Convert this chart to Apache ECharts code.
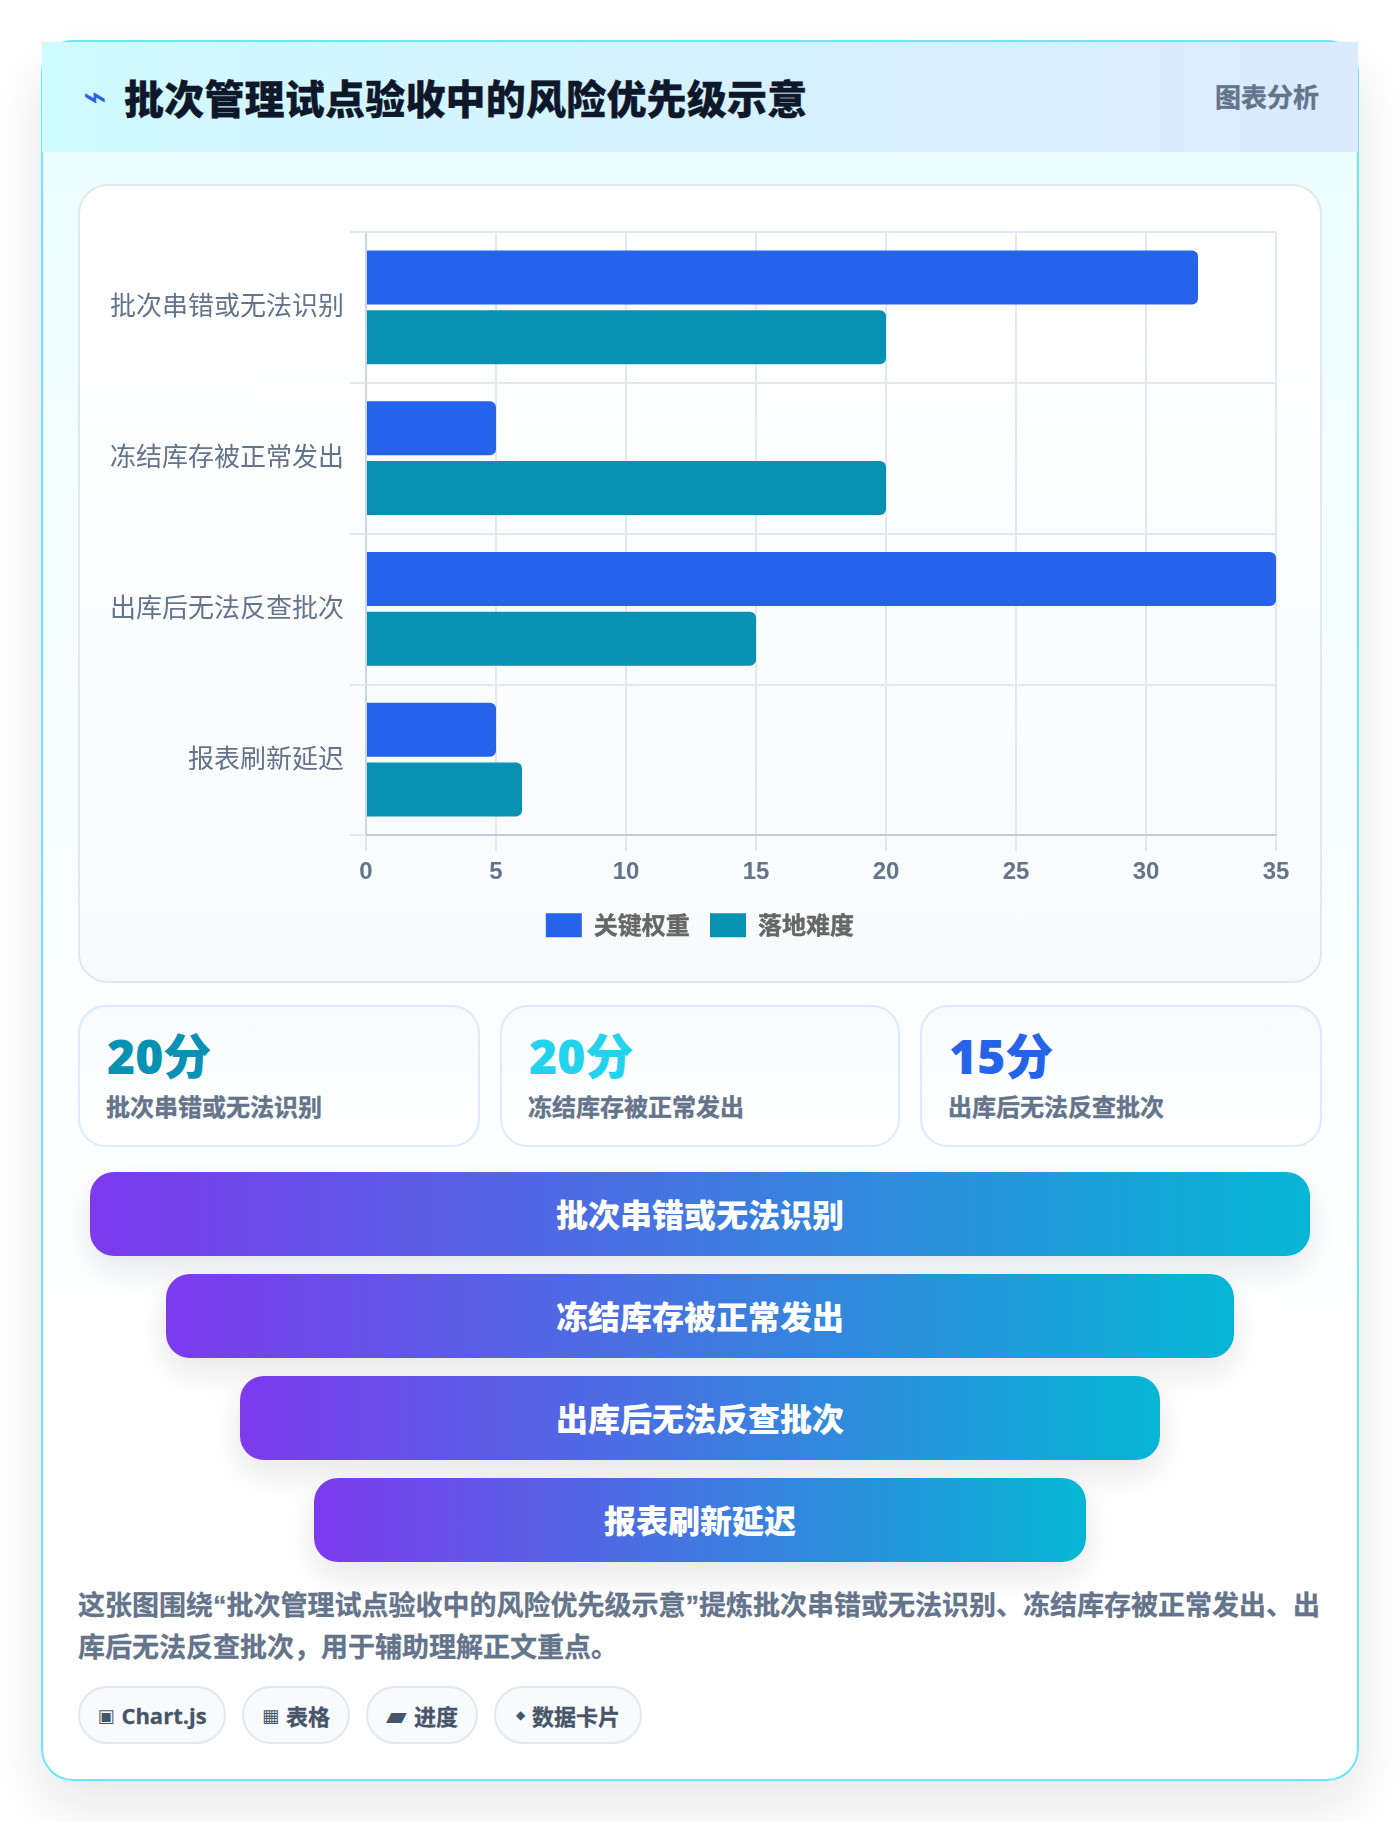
<!DOCTYPE html>
<html lang="zh"><head><meta charset="utf-8">
<script src="https://cdn.jsdelivr.net/npm/echarts@6/dist/echarts.min.js"></script>
<style>
*{box-sizing:border-box;margin:0;padding:0}
html,body{width:1400px;height:1822px;background:#fff;overflow:hidden;font-family:"Noto Sans CJK SC","Noto Sans",sans-serif}
.abs{position:absolute}
#card{left:41px;top:40px;width:1318px;height:1741px;border:2px solid #67e8f9;border-radius:32px;background:linear-gradient(180deg,#ecfeff 0%,#f8feff 45%,#fff 75%);box-shadow:0 24px 56px rgba(15,23,42,.10)}
#head{left:42px;top:42px;width:1316px;height:110px;background:linear-gradient(90deg,#cffafe,#dbeafe)}
#bolt{left:83px;top:74px;font:400 40px "DejaVu Sans";color:#2563eb;line-height:44px}
#title{left:124px;top:67px;font-size:40px;letter-spacing:.2px;font-weight:900;color:#0f172a;line-height:60px;white-space:nowrap;-webkit-text-stroke:.3px #0f172a}
#tag{right:81px;top:77px;font-size:26px;font-weight:700;color:#64748b;line-height:38px;white-space:nowrap;-webkit-text-stroke:.4px #64748b}
#box{left:78px;top:184px;width:1244px;height:799px;border:2px solid #e2e8f0;border-radius:30px;background:linear-gradient(180deg,#fff,#f8fafc)}
#chart{left:81px;top:186px;width:1238px;height:795px}
.stat{top:1005px;height:142px;border:2px solid #dbeafe;border-radius:28px;background:linear-gradient(180deg,#f8fafc,#fff)}
.stat b{position:absolute;left:27px;top:14px;font-family:"Open Sans","Noto Sans CJK SC",sans-serif;font-size:48px;font-weight:800;line-height:70px;white-space:nowrap}
.stat span{position:absolute;left:26px;top:80px;font-size:24px;font-weight:700;color:#64748b;line-height:38px;white-space:nowrap;-webkit-text-stroke:.4px #64748b}
.fun{height:84px;padding-bottom:2px;border-radius:24px;background:linear-gradient(90deg,#7c3aed,#06b6d4);box-shadow:0 14px 32px rgba(15,23,42,.10);color:#fff;font-size:32px;font-weight:800;display:flex;align-items:center;justify-content:center;white-space:nowrap}
#desc{left:78px;top:1585px;width:1246px;font-family:"Liberation Sans","Noto Sans CJK SC",sans-serif;font-size:27px;font-weight:700;color:#64748b;line-height:42px;-webkit-text-stroke:.3px #64748b}
.pill{top:1686px;height:58px;padding-bottom:0;border:2px solid #e2e8f0;border-radius:29px;background:#f8fafc;color:#475569;font-family:"Open Sans","Noto Sans CJK SC",sans-serif;font-size:22px;font-weight:700;display:flex;align-items:center;justify-content:center;white-space:nowrap;-webkit-text-stroke:.3px #475569}
.pill i{font-style:normal;font-family:"DejaVu Sans";margin-right:7px;-webkit-text-stroke:0}
</style></head><body>
<div id="card" class="abs"></div>
<div id="head" class="abs"></div>
<div id="bolt" class="abs">⌁</div>
<div id="title" class="abs"></div>
<div id="tag" class="abs"></div>
<div id="box" class="abs"></div>
<div id="chart" class="abs"></div>
<div id="rest"></div>
<div id="desc" class="abs"></div>
<script>
const titleText = "批次管理试点验收中的风险优先级示意";
const tagText = "图表分析";
const categories = ["批次串错或无法识别","冻结库存被正常发出","出库后无法反查批次","报表刷新延迟"];
const seriesNames = ["关键权重","落地难度"];
const weightValues = [32,5,35,5];
const difficultyValues = [20,20,15,6];
const statValues = ["20分","20分","15分"];
const statLabels = ["批次串错或无法识别","冻结库存被正常发出","出库后无法反查批次"];
const funnelLabels = ["批次串错或无法识别","冻结库存被正常发出","出库后无法反查批次","报表刷新延迟"];
const descText = "这张图围绕“批次管理试点验收中的风险优先级示意”提炼批次串错或无法识别、冻结库存被正常发出、出库后无法反查批次，用于辅助理解正文重点。";
const pillIcons = ["▣","▦","▰","◆"];
const pillLabels = ["Chart.js","表格","进度","数据卡片"];

const statColors = ["#0891b2","#22d3ee","#2563eb"];
const statBoxes = [[78,402],[500,400],[920,402]];
const funnelBoxes = [[90,1172,1220],[166,1274,1068],[240,1376,920],[314,1478,772]];
const pillBoxes = [[78,148],[242,108],[366,112],[494,148]];
const pillIconSizes = [18,18,27,12];

document.getElementById("title").textContent = titleText;
document.getElementById("tag").textContent = tagText;
document.getElementById("desc").textContent = descText;
const rest = document.getElementById("rest");
statValues.forEach((v,i)=>{
  const d=document.createElement("div");d.className="abs stat";
  d.style.left=statBoxes[i][0]+"px";d.style.width=statBoxes[i][1]+"px";
  const b=document.createElement("b");b.textContent=v;b.style.color=statColors[i];
  const s=document.createElement("span");s.textContent=statLabels[i];
  d.append(b,s);rest.append(d);
});
funnelLabels.forEach((t,i)=>{
  const d=document.createElement("div");d.className="abs fun";
  d.style.left=funnelBoxes[i][0]+"px";d.style.top=funnelBoxes[i][1]+"px";d.style.width=funnelBoxes[i][2]+"px";
  d.textContent=t;rest.append(d);
});
pillLabels.forEach((t,i)=>{
  const d=document.createElement("div");d.className="abs pill";
  d.style.left=pillBoxes[i][0]+"px";d.style.width=pillBoxes[i][1]+"px";
  const ic=document.createElement("i");ic.textContent=pillIcons[i];ic.style.fontSize=pillIconSizes[i]+"px";
  d.append(ic,document.createTextNode(t));rest.append(d);
});

const cjk='"Noto Sans CJK SC","Noto Sans",sans-serif';
const chart = echarts.init(document.getElementById("chart"),null,{renderer:"canvas"});
chart.setOption({
  animation:false,
  legend:{top:722,left:"center",itemWidth:36,itemHeight:24,itemGap:20,icon:"rect",
    data:seriesNames,
    textStyle:{color:"#666",fontSize:24,fontWeight:700,fontFamily:cjk,padding:[0,0,0,7],textBorderColor:"#666",textBorderWidth:.4}},
  grid:{left:285,right:43,top:46,height:603,containLabel:false},
  xAxis:[
    {type:"value",min:0,max:35,interval:5,
      axisLine:{show:false},
      axisTick:{show:true,length:16,lineStyle:{color:"#e2e8f0",width:2}},
      splitLine:{show:true,lineStyle:{color:"#e2e8f0",width:2}},
      axisLabel:{color:"#64748b",fontSize:24,fontWeight:700,fontFamily:'"Liberation Sans",Arial,sans-serif',margin:25}},
    {type:"value",min:0,max:35,position:"bottom",z:5,
      axisLine:{show:true,lineStyle:{color:"#c5cbd6",width:2}},
      axisTick:{show:false},splitLine:{show:false},axisLabel:{show:false}}
  ],
  yAxis:{type:"category",inverse:true,data:categories,z:5,
    axisLine:{show:true,lineStyle:{color:"#cbd5e1",width:2}},
    axisTick:{show:true,length:16,lineStyle:{color:"#e2e8f0",width:2}},
    splitLine:{show:true,lineStyle:{color:"#e2e8f0",width:2}},
    axisLabel:{color:"#64748b",fontSize:26,fontFamily:cjk,margin:22,verticalAlign:"bottom",lineHeight:4}},
  series:[
    {name:seriesNames[0],type:"bar",data:weightValues,barWidth:54,barGap:"11%",itemStyle:{color:"#2563eb",borderRadius:[0,6,6,0]}},
    {name:seriesNames[1],type:"bar",data:difficultyValues,barWidth:54,barGap:"11%",itemStyle:{color:"#0891b2",borderRadius:[0,6,6,0]}}
  ]
});
</script></body></html>
